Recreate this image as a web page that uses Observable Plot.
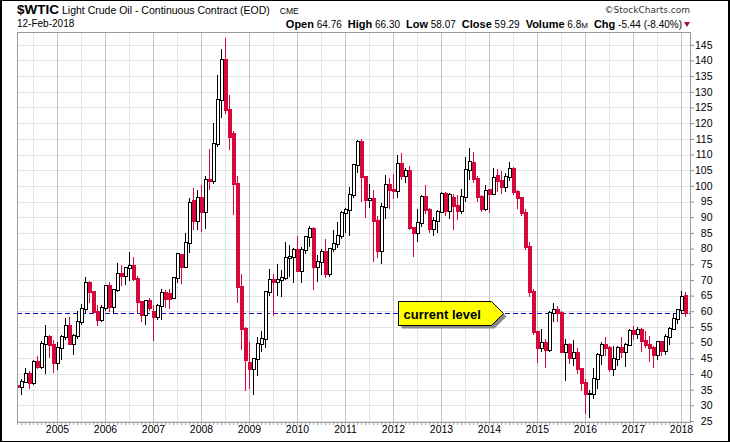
<!DOCTYPE html>
<html>
<head>
<meta charset="utf-8">
<script src="https://cdn.jsdelivr.net/npm/d3@7"></script>
<script src="https://cdn.jsdelivr.net/npm/@observablehq/plot@0.6"></script>
<style>
  html, body { margin: 0; padding: 0; background: #fff; }
  #wrap { position: relative; width: 730px; height: 442px; overflow: hidden; background: #fff;
          font-family: "Liberation Sans", Arial, sans-serif; color: #000; }
  #chart svg { position: absolute; left: 0; top: 0; }
  .hd { position: absolute; white-space: nowrap; }
  .l { font-weight: bold; font-size: 11px; margin-left: 6px; }
  #border { position: absolute; left: 0; top: 0; width: 730px; height: 442px; box-sizing: border-box;
            border: 1px solid #000; border-left-width: 2px; border-right-width: 2px; pointer-events: none; }
  #tri { position: absolute; left: 683.5px; top: 22px; width: 0; height: 0;
         border-left: 3.5px solid transparent; border-right: 3.5px solid transparent; border-top: 5px solid #a3102f; }
</style>
</head>
<body>
<div id="wrap">
  <div id="chart"></div>
  <div class="hd" style="left:17px; top:2px; font-size:10.5px; line-height:16px;"><span style="font-weight:bold; font-size:13.5px;">$WTIC</span><span style="margin-left:3px;">Light Crude Oil - Continuous Contract (EOD)</span><span style="margin-left:10px; font-size:8.5px;">CME</span></div>
  <div class="hd" style="left:17px; top:18px; font-size:10px; line-height:12px;">12-Feb-2018</div>
  <div class="hd" style="right:40px; top:5px; font-size:9px; line-height:10px; color:#333; font-family:'DejaVu Sans', sans-serif;">&copy;StockCharts.com</div>
  <div class="hd" style="right:48px; top:18px; font-size:10px; line-height:12px;"><b class="l" style="margin-left:0">Open</b> 64.76<b class="l">High</b> 66.30<b class="l">Low</b> 58.07<b class="l">Close</b> 59.29<b class="l">Volume</b> 6.8<span style="font-size:8px">M</span><b class="l">Chg</b> -5.44 (-8.40%)</div>
  <div id="tri"></div>
  <div id="border"></div>
</div>
<script>
// Monthly candles, first month = March 2004, last = February 2018
const firstYear = 2004, firstMonth = 3;

const opens = [
  36.2, 35.8, 37.4, 39.9, 37.05, 43.8, 42.1, 49.6, 51.8, 49.1,
  43.45, 48.2, 51.75, 55.4, 49.7, 51.97, 56.5, 60.57, 68.94, 66.24, 59.76, 57.32,
  61.04, 67.92, 61.41, 66.63, 71.88, 71.29, 73.93, 74.40, 70.26, 62.91, 58.73, 63.13,
  59.9, 58.14, 61.79, 65.87, 65.5, 64.2, 70.6, 78.0, 74.1, 81.7, 95.2, 88.7,
  96.0, 91.8, 101.9, 101.6, 113.5, 127.4, 140.0, 124.1, 116.5, 100.6, 67.8, 54.4,
  43.6, 41.7, 44.8, 49.7, 51.1, 66.3, 69.9, 69.45, 70.0, 70.6, 77.0, 77.3,
  79.4, 72.9, 79.7, 83.8, 86.2, 74.0, 75.6, 78.95, 71.9, 80.0, 81.4, 84.1,
  91.4, 92.2, 97.0, 106.7, 113.9, 102.7, 95.4, 95.7, 88.8, 79.2, 93.2, 100.4,
  98.8, 98.5, 107.1, 103.0, 104.9, 86.5, 85.0, 88.1, 96.5, 92.2, 86.2, 88.9,
  91.8, 97.5, 92.05, 96.2, 93.5, 92.0, 96.6, 105.0, 107.2, 102.3, 96.4, 92.7,
  98.7, 97.5, 103.1, 101.6, 99.7, 102.7, 105.4, 98.2, 96.0, 91.2, 80.5, 66.15,
  53.3, 48.2, 49.8, 47.6, 59.6, 60.3, 59.5, 47.1, 49.2, 45.1, 46.6, 41.65,
  37.0, 33.6, 33.75, 38.3, 45.9, 49.1, 48.3, 41.6, 44.7, 48.2, 46.9, 49.4,
  53.7, 52.8, 54.0, 50.6, 49.3, 48.3, 46.0, 50.2, 47.2, 51.7, 54.4, 57.4,
  60.4, 64.76
];
const highs = [
  37.0, 38.3, 41.8, 41.0, 44.6, 45.8, 50.5, 55.7, 52.5, 50.9,
  50.1, 52.5, 58.0, 58.2, 52.6, 60.0, 62.3, 70.9, 69.8, 66.5, 62.1, 61.9,
  68.4, 69.2, 67.1, 75.35, 74.6, 74.1, 78.9, 77.3, 71.2, 63.1, 63.7, 64.2,
  61.9, 62.4, 67.1, 66.9, 67.1, 70.9, 78.3, 78.3, 84.9, 96.1, 99.2, 98.7,
  100.3, 103.0, 111.9, 119.9, 135.5, 143.7, 147.3, 129.0, 117.5, 103.0, 71.9, 55.0,
  50.2, 45.1, 51.8, 53.6, 66.6, 73.4, 71.9, 75.0, 73.2, 82.0, 81.2, 80.1,
  84.0, 80.5, 84.0, 87.2, 87.0, 78.0, 79.9, 83.0, 80.1, 85.9, 88.6, 92.1,
  92.8, 99.7, 107.0, 114.6, 115.0, 103.0, 100.5, 98.6, 90.5, 94.6, 103.4, 102.4,
  103.8, 109.8, 110.6, 105.8, 106.3, 87.0, 92.5, 97.2, 100.4, 93.0, 90.0, 92.4,
  98.2, 98.2, 97.8, 97.4, 97.0, 99.0, 109.3, 112.2, 110.7, 103.0, 97.0, 100.3,
  98.9, 105.6, 105.3, 104.9, 104.0, 107.7, 106.0, 98.7, 96.5, 92.5, 82.0, 67.0,
  53.8, 54.2, 51.3, 60.0, 62.6, 61.8, 60.0, 51.0, 50.0, 50.9, 48.4, 42.0,
  38.4, 35.0, 41.9, 46.8, 50.2, 51.7, 49.0, 48.8, 48.9, 51.9, 49.9, 54.5,
  55.2, 54.9, 54.6, 53.8, 52.0, 49.0, 50.4, 50.2, 52.9, 55.0, 59.0, 60.5,
  66.6, 66.30
];
const lows = [
  35.2, 33.2, 37.2, 35.3, 36.6, 41.5, 41.6, 40.0, 45.1, 40.2,
  41.3, 44.3, 50.7, 49.2, 46.2, 51.3, 55.7, 59.5, 62.6, 59.0, 55.4, 56.6,
  60.2, 59.9, 59.2, 66.0, 68.0, 68.5, 69.5, 69.5, 59.6, 56.6, 55.7, 60.0,
  50.5, 57.3, 57.3, 61.0, 60.7, 63.9, 69.0, 68.8, 73.8, 78.5, 86.0, 86.0,
  85.4, 86.2, 98.7, 100.5, 112.5, 121.5, 123.0, 111.4, 90.7, 62.5, 47.7, 34.5,
  35.2, 33.2, 39.2, 46.9, 48.3, 64.9, 58.5, 64.9, 64.7, 70.0, 71.0, 68.9,
  72.4, 69.0, 78.4, 80.5, 66.9, 69.2, 71.5, 70.6, 70.8, 79.0, 80.2, 83.0,
  85.1, 84.1, 96.0, 104.0, 95.0, 89.7, 93.0, 75.6, 76.9, 74.95, 89.5, 92.5,
  95.7, 96.0, 102.0, 101.0, 86.0, 77.3, 82.0, 87.0, 91.0, 85.0, 84.0, 85.0,
  91.5, 90.5, 89.4, 86.0, 89.0, 91.0, 95.0, 102.0, 101.0, 95.0, 91.8, 92.0,
  91.2, 97.0, 98.0, 97.4, 98.0, 101.5, 97.2, 92.5, 90.4, 79.4, 64.7, 52.4,
  43.6, 47.0, 42.0, 47.0, 56.5, 56.5, 47.0, 37.8, 43.2, 42.6, 40.0, 34.5,
  27.2, 26.05, 32.0, 35.2, 43.0, 45.8, 40.6, 39.2, 42.5, 45.0, 42.2, 49.0,
  50.7, 51.2, 47.1, 48.2, 43.8, 42.05, 44.3, 45.6, 46.1, 49.1, 54.2, 55.8,
  59.1, 58.07
];
const closes = [
  35.8, 37.4, 39.9, 37.05, 43.8, 42.1, 49.6, 51.8, 49.1, 43.45,
  48.2, 51.75, 55.4, 49.7, 51.97, 56.5, 60.57, 68.94, 66.24, 59.76, 57.32, 61.04,
  67.92, 61.41, 66.63, 71.88, 71.29, 73.93, 74.40, 70.26, 62.91, 58.73, 63.13, 61.05,
  58.14, 61.79, 65.87, 64.0, 63.9, 70.6, 78.2, 74.1, 81.7, 94.5, 88.7, 96.0,
  91.8, 101.9, 101.6, 113.5, 127.4, 140.0, 124.1, 115.5, 100.6, 67.8, 54.4, 44.6,
  41.7, 44.8, 49.7, 51.1, 66.3, 69.9, 69.45, 70.0, 70.6, 77.0, 77.3, 79.4,
  72.9, 79.7, 83.8, 86.2, 74.0, 75.6, 78.95, 71.9, 80.0, 81.4, 84.1, 91.4,
  92.2, 97.0, 106.7, 113.9, 102.7, 95.4, 95.7, 88.8, 79.2, 93.2, 100.4, 98.8,
  98.5, 107.1, 103.0, 104.9, 86.5, 85.0, 88.1, 96.5, 92.2, 86.2, 88.9, 91.8,
  97.5, 92.05, 97.2, 93.5, 92.0, 96.6, 105.0, 107.7, 102.3, 96.4, 92.7, 98.4,
  97.5, 102.6, 101.6, 99.7, 102.7, 105.4, 98.2, 96.0, 91.2, 80.5, 66.15, 53.3,
  48.2, 49.8, 47.6, 59.6, 60.3, 59.5, 47.1, 49.2, 45.1, 46.6, 41.65, 37.0,
  33.6, 33.75, 38.3, 45.9, 49.1, 48.3, 41.6, 44.7, 48.2, 46.9, 49.4, 53.7,
  52.8, 54.0, 50.6, 49.3, 48.3, 46.0, 50.2, 47.2, 51.7, 54.4, 57.4, 60.4,
  64.7, 59.29
];

const yearLabels = ["2005","2006","2007","2008","2009","2010","2011","2012","2013","2014","2015","2016","2017","2018"];
const yTicks = [25,30,35,40,45,50,55,60,65,70,75,80,85,90,95,100,105,110,115,120,125,130,135,140,145];
const currentClose = 59.29;
const calloutLabel = "current level";
const calloutTipMonth = 111.6;   // month index (Jan 2005 = 0) where the callout arrow points

const RED = "#d6083b";
const offset0 = (firstYear - 2005) * 12 + (firstMonth - 1); // month index of first candle
const candles = closes.map((c, k) => {
  const prev = k ? closes[k - 1] : opens[k];
  const color = c < prev ? RED : "#000";
  return {i: offset0 + k, open: opens[k], high: highs[k], low: lows[k], close: c,
          color, fill: c < opens[k] ? color : "#fff"};
});
const yearIdx = yearLabels.map((y, k) => k * 12);
const halfYears = [-6, ...yearIdx.map(d => d + 6)].filter(d => d < 158);
const monthTicks = d3.range(offset0, offset0 + closes.length);

function callout(index, scales) {
  const tx = Math.round(scales.x(calloutTipMonth)) + 0.5;
  const ty = Math.round(scales.y(currentClose)) + 0.5;
  const w = 93, h = 23, a = 12;
  const x0 = tx - a - w, x1 = tx - a, y0 = ty - h / 2 - 0.5, y1 = ty + h / 2 + 0.5;
  const d = `M${x0},${y0}H${x1}L${tx},${ty}L${x1},${y1}H${x0}Z`;
  const g = d3.create("svg:g");
  g.append("path").attr("d", d).attr("transform", "translate(3,3)").attr("fill", "#8a8a8a");
  g.append("path").attr("d", d).attr("fill", "#ffff00").attr("stroke", "#000");
  g.append("text").attr("x", x0 + 5).attr("y", ty + 5).attr("text-anchor", "start")
    .attr("font-weight", "bold").attr("font-size", "13px").attr("fill", "#000")
    .text(calloutLabel);
  return g.node();
}

const crisp = {shapeRendering: "crispEdges"};
const chart = Plot.plot({
  width: 730, height: 442,
  marginTop: 32, marginBottom: 20, marginLeft: 17, marginRight: 40,
  x: {type: "linear", domain: [-10, 158.25]},
  y: {type: "linear", domain: [24.68, 149.08]},
  style: {fontFamily: '"Liberation Sans", Arial, sans-serif', fontSize: "10.5px", background: "transparent", overflow: "visible", color: "#000"},
  marks: [
    Plot.ruleY(yTicks, {stroke: "#e3e3e3", ...crisp}),
    Plot.ruleX(halfYears, {stroke: "#e6e6e6", ...crisp}),
    Plot.ruleX(yearIdx, {stroke: "#c4c4c4", ...crisp}),
    Plot.ruleY([currentClose], {stroke: "#0a0ac8", strokeDasharray: "5,3", ...crisp}),
    Plot.ruleX(candles, {x: "i", y1: "low", y2: "high", stroke: "color", clip: true, ...crisp}),
    Plot.rect(candles, {x1: d => d.i - 0.25, x2: d => d.i + 0.5, y1: "open", y2: "close",
                        fill: "fill", stroke: "color", insetTop: -0.5, insetBottom: -0.5, clip: true, ...crisp}),
    Plot.frame({stroke: "#9a9a9a", ...crisp}),
    Plot.axisX(monthTicks, {tickSize: 3, tickFormat: () => "", stroke: "#aaa", label: null}),
    Plot.axisY(yTicks, {anchor: "right", tickSize: 3, tickFormat: () => "", stroke: "#888", label: null}),
    Plot.text(yTicks, {y: d => d, text: d => String(d), frameAnchor: "right", dx: 22, textAnchor: "end", fill: "#000"}),
    Plot.text(yearIdx, {x: d => d, text: (d, k) => yearLabels[k], frameAnchor: "bottom", dy: 10, fill: "#000"}),
    callout
  ]
});
document.getElementById("chart").appendChild(chart);
</script>
</body>
</html>
